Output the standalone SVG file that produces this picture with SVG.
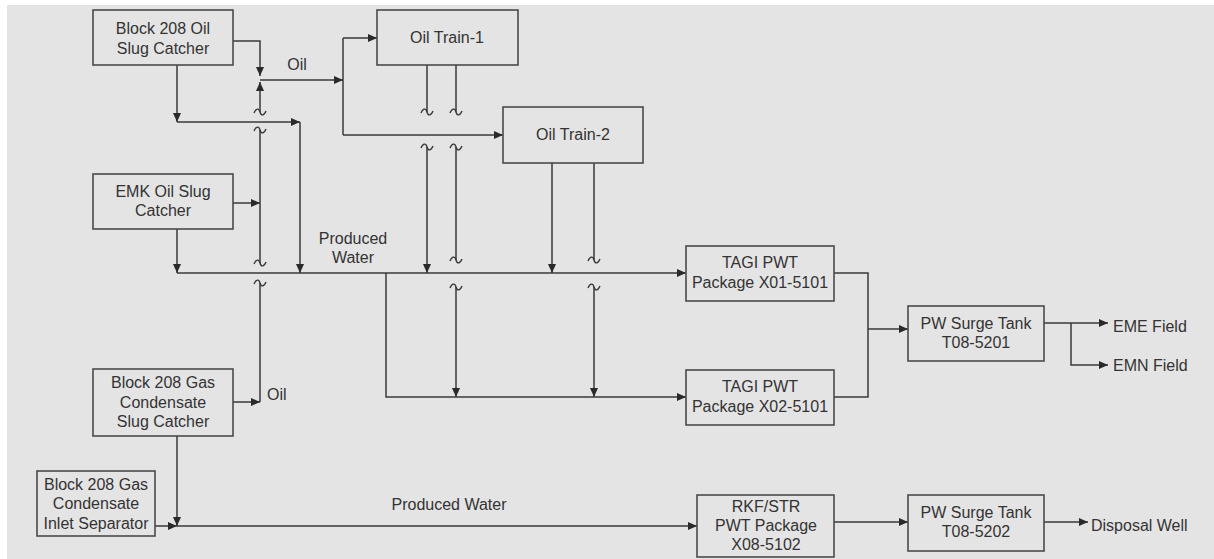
<svg xmlns="http://www.w3.org/2000/svg" width="1214" height="559" viewBox="0 0 1214 559">
<style>
.bg{fill:#e4e4e4}
.box{fill:#e4e4e4;stroke:#4a4a4a;stroke-width:1.6}
.t{font-family:"Liberation Sans",Arial,sans-serif;font-size:16px;fill:#333;text-anchor:middle}
.tl{font-family:"Liberation Sans",Arial,sans-serif;font-size:16px;fill:#333;text-anchor:start}
.ln{fill:none;stroke:#3a3a3a;stroke-width:1.5}
.ar{fill:none;stroke:#3a3a3a;stroke-width:1.5;marker-end:url(#ah)}
.tld{fill:none;stroke:#3a3a3a;stroke-width:1.4}
</style>
<defs>
<marker id="ah" markerUnits="userSpaceOnUse" markerWidth="10" markerHeight="8" refX="9" refY="4" orient="auto">
<path d="M0,0 L9,4 L0,8 Z" fill="#2a2a2a"/>
</marker>
<path id="tilde" d="M-6,1 C-4,-4 -1,-4 0,0 C1,4 4,4 6,-1"/>
</defs>
<rect x="0" y="0" width="1214" height="559" fill="#ffffff"/>
<rect class="bg" x="7" y="5" width="1207" height="554"/>

<g id="connectors">
<path class="ar" d="M233,41 H260 V76"/>
<path class="ar" d="M260,112 V82"/>
<path class="ln" d="M260,263 V130"/>
<path class="ln" d="M260,402 V283"/>
<path class="ar" d="M233,402 H260"/>
<path class="ar" d="M260,80 H343"/>
<path class="ln" d="M343,38 V135"/>
<path class="ar" d="M343,38 H377"/>
<path class="ar" d="M343,135 H503"/>
<path class="ar" d="M177,65 V122"/>
<path class="ar" d="M177,122 H300"/>
<path class="ar" d="M300,122 V273"/>
<path class="ar" d="M233,203 H260"/>
<path class="ar" d="M177,229 V273"/>
<path class="ar" d="M177,273 H686"/>
<path class="ar" d="M386,273 V397 H686"/>
<path class="ln" d="M427,65 V112"/>
<path class="ar" d="M427,147 V273"/>
<path class="ln" d="M456,65 V112"/>
<path class="ln" d="M456,147 V260"/>
<path class="ar" d="M456,287 V397"/>
<path class="ar" d="M552,163 V273"/>
<path class="ln" d="M594,163 V260"/>
<path class="ar" d="M594,287 V397"/>
<path class="ln" d="M834,273 H868 V397 H834"/>
<path class="ar" d="M868,329 H908"/>
<path class="ar" d="M1044,323 H1108"/>
<path class="ar" d="M1071,323 V365 H1108"/>
<path class="ar" d="M177,436 V526"/>
<path class="ar" d="M155,526 H177"/>
<path class="ar" d="M177,526 H697"/>
<path class="ar" d="M834,522 H908"/>
<path class="ar" d="M1044,522 H1088"/>
<g class="tld">
<use href="#tilde" x="260" y="112"/>
<use href="#tilde" x="260" y="130"/>
<use href="#tilde" x="260" y="263"/>
<use href="#tilde" x="260" y="283"/>
<use href="#tilde" x="427" y="112"/>
<use href="#tilde" x="427" y="147"/>
<use href="#tilde" x="456" y="112"/>
<use href="#tilde" x="456" y="147"/>
<use href="#tilde" x="456" y="260"/>
<use href="#tilde" x="456" y="287"/>
<use href="#tilde" x="594" y="260"/>
<use href="#tilde" x="594" y="287"/>
</g>
<text class="t" x="297" y="70">Oil</text>
<text class="tl" x="267" y="400">Oil</text>
<text class="t" x="353" y="244">Produced</text>
<text class="t" x="353" y="263">Water</text>
<text class="t" x="449" y="510">Produced Water</text>
<text class="tl" x="1113" y="332">EME Field</text>
<text class="tl" x="1113" y="371">EMN Field</text>
<text class="tl" x="1091" y="531">Disposal Well</text>
</g>

<g id="block208-oil">
<rect class="box" x="93" y="10" width="140" height="55"/>
<text class="t" x="163" y="34">Block 208 Oil</text>
<text class="t" x="163" y="54">Slug Catcher</text>
</g>
<g id="emk-oil">
<rect class="box" x="93" y="174" width="140" height="55"/>
<text class="t" x="163" y="197">EMK Oil Slug</text>
<text class="t" x="163" y="216">Catcher</text>
</g>
<g id="block208-gas">
<rect class="box" x="93" y="369" width="140" height="67"/>
<text class="t" x="163" y="388">Block 208 Gas</text>
<text class="t" x="163" y="408">Condensate</text>
<text class="t" x="163" y="427">Slug Catcher</text>
</g>
<g id="inlet-sep">
<rect class="box" x="37" y="471" width="118" height="65"/>
<text class="t" x="96" y="490">Block 208 Gas</text>
<text class="t" x="96" y="509">Condensate</text>
<text class="t" x="96" y="529">Inlet Separator</text>
</g>
<g id="oil-train-1">
<rect class="box" x="377" y="10" width="141" height="55"/>
<text class="t" x="447" y="43">Oil Train-1</text>
</g>
<g id="oil-train-2">
<rect class="box" x="503" y="107" width="140" height="56"/>
<text class="t" x="573" y="140">Oil Train-2</text>
</g>
<g id="tagi-x01">
<rect class="box" x="686" y="246" width="148" height="55"/>
<text class="t" x="760" y="268">TAGI PWT</text>
<text class="t" x="760" y="288">Package X01-5101</text>
</g>
<g id="tagi-x02">
<rect class="box" x="686" y="370" width="148" height="55"/>
<text class="t" x="760" y="392">TAGI PWT</text>
<text class="t" x="760" y="412">Package X02-5101</text>
</g>
<g id="surge-5201">
<rect class="box" x="908" y="306" width="136" height="55"/>
<text class="t" x="976" y="329">PW Surge Tank</text>
<text class="t" x="976" y="348">T08-5201</text>
</g>
<g id="rkf-str">
<rect class="box" x="697" y="495" width="137" height="62"/>
<text class="t" x="766" y="512">RKF/STR</text>
<text class="t" x="766" y="531">PWT Package</text>
<text class="t" x="766" y="550">X08-5102</text>
</g>
<g id="surge-5202">
<rect class="box" x="908" y="495" width="136" height="56"/>
<text class="t" x="976" y="518">PW Surge Tank</text>
<text class="t" x="976" y="537">T08-5202</text>
</g>
</svg>
